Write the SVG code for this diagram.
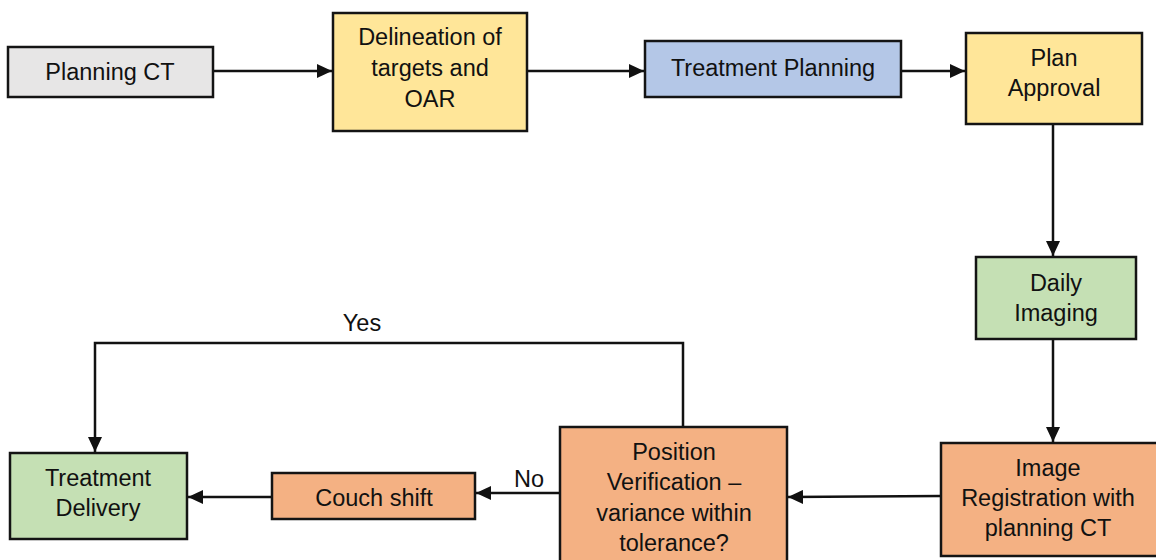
<svg xmlns="http://www.w3.org/2000/svg" width="1156" height="560" viewBox="0 0 1156 560">
  <style>
    .box { stroke: #141414; stroke-width: 2.5; }
    .grey { fill: #e7e6e6; }
    .yellow { fill: #ffe699; }
    .blue { fill: #b4c7e7; }
    .green { fill: #c5e0b4; }
    .orange { fill: #f4b183; }
    .lbl { font-family: "Liberation Sans", Arial, sans-serif; font-size: 23.5px; fill: #111; text-anchor: middle; }
    .edge { fill: none; stroke: #111; stroke-width: 2.5; }
  </style>
  <defs>
    <marker id="arrow" viewBox="0 0 15 14" refX="15" refY="7" markerWidth="15" markerHeight="14" markerUnits="userSpaceOnUse" orient="auto">
      <path d="M0,0 L15,7 L0,14 Z" fill="#111"/>
    </marker>
  </defs>
  <rect width="1156" height="560" fill="#ffffff"/>

  <g id="connectors">
    <line class="edge" x1="213" y1="71" x2="332" y2="71" marker-end="url(#arrow)"/>
    <line class="edge" x1="527" y1="71" x2="644" y2="71" marker-end="url(#arrow)"/>
    <line class="edge" x1="902" y1="71" x2="965" y2="71" marker-end="url(#arrow)"/>
    <line class="edge" x1="1053" y1="124" x2="1053" y2="256" marker-end="url(#arrow)"/>
    <line class="edge" x1="1053" y1="339" x2="1053" y2="442" marker-end="url(#arrow)"/>
    <line class="edge" x1="941" y1="496" x2="788" y2="497" marker-end="url(#arrow)"/>
    <line class="edge" x1="560" y1="493" x2="476" y2="493" marker-end="url(#arrow)"/>
    <line class="edge" x1="272" y1="497" x2="188" y2="497" marker-end="url(#arrow)"/>
    <polyline class="edge" points="683,427 683,343 95,343 95,452" marker-end="url(#arrow)"/>
    <text class="lbl" x="362" y="331">Yes</text>
    <text class="lbl" x="529" y="487">No</text>
  </g>

  <g id="planning-ct">
    <rect class="box grey" x="8" y="47" width="205" height="50"/>
    <text class="lbl" x="110" y="80">Planning CT</text>
  </g>
  <g id="delineation">
    <rect class="box yellow" x="333" y="13" width="194" height="118"/>
    <text class="lbl" x="430" y="45">Delineation of</text>
    <text class="lbl" x="430" y="76">targets and</text>
    <text class="lbl" x="430" y="107">OAR</text>
  </g>
  <g id="treatment-planning">
    <rect class="box blue" x="645" y="41" width="256" height="56"/>
    <text class="lbl" x="773" y="76">Treatment Planning</text>
  </g>
  <g id="plan-approval">
    <rect class="box yellow" x="966" y="33" width="176" height="91"/>
    <text class="lbl" x="1054" y="66">Plan</text>
    <text class="lbl" x="1054" y="96">Approval</text>
  </g>
  <g id="daily-imaging">
    <rect class="box green" x="976" y="257" width="160" height="82"/>
    <text class="lbl" x="1056" y="291">Daily</text>
    <text class="lbl" x="1056" y="321">Imaging</text>
  </g>
  <g id="image-registration">
    <rect class="box orange" x="941" y="443" width="222" height="113"/>
    <text class="lbl" x="1048" y="476">Image</text>
    <text class="lbl" x="1048" y="506">Registration with</text>
    <text class="lbl" x="1048" y="536">planning CT</text>
  </g>
  <g id="position-verification">
    <rect class="box orange" x="560" y="427" width="227" height="140"/>
    <text class="lbl" x="674" y="460">Position</text>
    <text class="lbl" x="674" y="490">Verification –</text>
    <text class="lbl" x="674" y="521">variance within</text>
    <text class="lbl" x="674" y="551">tolerance?</text>
  </g>
  <g id="couch-shift">
    <rect class="box orange" x="272" y="473" width="203" height="46"/>
    <text class="lbl" x="374" y="506">Couch shift</text>
  </g>
  <g id="treatment-delivery">
    <rect class="box green" x="10" y="453" width="177" height="86"/>
    <text class="lbl" x="98" y="486">Treatment</text>
    <text class="lbl" x="98" y="516">Delivery</text>
  </g>
</svg>
